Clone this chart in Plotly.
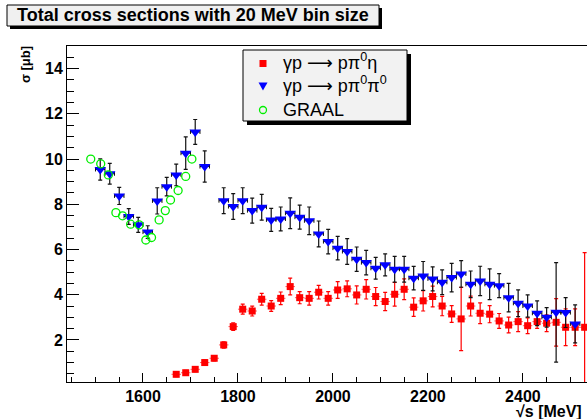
import plotly.graph_objects as go

# ---------------- data ----------------
eta_x = [1670, 1690, 1710, 1730, 1750, 1770, 1790, 1810, 1830, 1850, 1870, 1890,
         1910, 1930, 1950, 1970, 1990, 2010, 2030, 2050, 2070, 2090, 2110, 2130,
         2150, 2170, 2190, 2210, 2230, 2250, 2270, 2290, 2310, 2330, 2350, 2370,
         2390, 2410, 2430, 2450, 2470, 2490, 2510, 2530]
eta_y = [0.48, 0.55, 0.70, 1.00, 1.19, 1.78, 2.59, 3.36, 3.28, 3.80, 3.50, 3.84,
         4.36, 3.87, 3.84, 4.11, 3.84, 4.21, 4.26, 3.99, 4.24, 3.92, 3.70, 4.02,
         4.24, 3.45, 3.73, 3.92, 3.50, 3.15, 2.93, 3.50, 3.18, 3.14, 2.84, 2.66,
         2.81, 2.63, 2.81, 2.74, 2.78, 2.56, 2.56, 2.56]
eta_err = [0.10, 0.10, 0.10, 0.12, 0.12, 0.14, 0.17, 0.22, 0.22, 0.26, 0.24, 0.28,
           0.37, 0.27, 0.30, 0.30, 0.30, 0.37, 0.35, 0.40, 0.43, 0.40, 0.40, 0.52,
           0.46, 0.41, 0.45, 0.46, 0.43, 0.37, 1.40, 0.44, 0.46, 0.38, 0.33, 0.35,
           0.44, 0.35, 0.30, 0.37, 1.05, 0.81, 0.81, 3.30]

pi0_x = [1510, 1530, 1550, 1570, 1590, 1610, 1630, 1650, 1670, 1690, 1710, 1730,
         1770, 1790, 1810, 1830, 1850, 1870, 1890, 1910, 1930, 1950, 1970, 1990,
         2010, 2030, 2050, 2070, 2090, 2110, 2130, 2150, 2170, 2190, 2210, 2230,
         2250, 2270, 2290, 2310, 2330, 2350, 2370, 2390, 2410, 2430, 2450, 2470,
         2490, 2510]
pi0_y = [9.54, 9.35, 8.37, 7.46, 7.09, 6.77, 8.15, 8.78, 9.30, 10.26, 11.20, 9.67,
         8.16, 7.90, 8.16, 7.72, 7.87, 7.31, 7.35, 7.60, 7.43, 7.27, 6.69, 6.35,
         6.06, 5.91, 5.57, 5.42, 5.17, 5.32, 5.13, 5.13, 4.73, 4.83, 4.70, 4.55,
         4.76, 4.92, 4.46, 4.61, 4.46, 4.40, 3.87, 3.62, 3.50, 3.18, 3.00, 3.22,
         3.21, 2.71]
pi0_err = [0.47, 0.46, 0.38, 0.35, 0.33, 0.28, 0.58, 0.41, 0.48, 0.72, 0.55, 0.69,
           0.57, 0.57, 0.57, 0.55, 0.57, 0.51, 0.53, 0.68, 0.53, 0.61, 0.57, 0.54,
           0.52, 0.57, 0.54, 0.54, 0.48, 0.49, 0.57, 0.57, 0.52, 0.64, 0.53, 0.55,
           0.63, 0.59, 0.59, 0.65, 0.68, 0.53, 0.63, 0.59, 0.49, 0.55, 0.43, 2.20,
           0.66, 0.84]

graal_x = [1490, 1511, 1527, 1543, 1557, 1574, 1592, 1606, 1618, 1634, 1647, 1658,
           1674, 1690, 1703]
graal_y = [10.00, 9.79, 9.30, 7.63, 7.49, 7.12, 7.09, 6.42, 6.53, 7.31, 7.72, 8.19,
           8.61, 9.23, 10.00]

HALF_BIN = 10  # MeV, half of the 20 MeV bin

names = ["γp ⟶ pπ<sup>0</sup>η", "γp ⟶ pπ<sup>0</sup>π<sup>0</sup>", "GRAAL"]
title_text = "Total cross sections with 20 MeV bin size"
x_title = "√s [MeV]"
y_title = "σ [μb]"

# ---------------- figure ----------------
FONT = "Liberation Sans, Arial, Helvetica, DejaVu Sans, sans-serif"
W, H = 587, 419
ML, MR, MT, MB = 67, 0, 46, 37
PW, PH = W - ML - MR, H - MT - MB

RED, BLUE, GREEN = "#ff0000", "#0000ff", "#00ee00"


def X(px):
    return (px - ML) / PW


def Y(py):
    return (H - MB - py) / PH


fig = go.Figure()

fig.add_trace(go.Scatter(
    x=eta_x, y=eta_y, mode="markers", name=names[0],
    marker=dict(symbol="square", size=7, color=RED),
    error_y=dict(type="data", array=eta_err, color=RED, thickness=1.2, width=2),
    error_x=dict(type="constant", value=HALF_BIN, color="#ff6060", thickness=1, width=0),
))
fig.add_trace(go.Scatter(
    x=pi0_x, y=pi0_y, mode="markers", name=names[1],
    marker=dict(symbol="triangle-down", size=10, color=BLUE),
    error_y=dict(type="data", array=pi0_err, color="#111111", thickness=1.2, width=2),
    error_x=dict(type="constant", value=HALF_BIN, color="#111111", thickness=1, width=2),
))
fig.add_trace(go.Scatter(
    x=graal_x, y=graal_y, mode="markers", name=names[2],
    marker=dict(symbol="circle-open", size=8, color=GREEN, line=dict(width=1.3, color=GREEN)),
))

shapes = []
# title box shadow + box
shapes.append(dict(type="rect", xref="paper", yref="paper",
                   x0=X(10), x1=X(382), y0=Y(29), y1=Y(8),
                   fillcolor="black", line=dict(width=0), layer="above"))
shapes.append(dict(type="rect", xref="paper", yref="paper",
                   x0=X(7), x1=X(379), y0=Y(26), y1=Y(5),
                   fillcolor="#f0f0f0", line=dict(width=1, color="black"), layer="above"))
# legend box shadow + box
LX0, LX1, LY0, LY1 = 243, 407, 50, 121
shapes.append(dict(type="rect", xref="paper", yref="paper",
                   x0=X(LX0 + 4), x1=X(LX1 + 4), y0=Y(LY1 + 4), y1=Y(LY0 + 4),
                   fillcolor="black", line=dict(width=0), layer="above"))
shapes.append(dict(type="rect", xref="paper", yref="paper",
                   x0=X(LX0), x1=X(LX1), y0=Y(LY1), y1=Y(LY0),
                   fillcolor="#f2f2f2", line=dict(width=1, color="black"), layer="above"))
# legend keys
KX = 263
ROWS = [63.5, 86.5, 110]
shapes.append(dict(type="rect", xref="paper", yref="paper",
                   x0=X(KX - 3.5), x1=X(KX + 3.5), y0=Y(ROWS[0] + 3.5), y1=Y(ROWS[0] - 3.5),
                   fillcolor=RED, line=dict(width=0), layer="above"))
shapes.append(dict(type="path", xref="paper", yref="paper",
                   path="M {:.4f} {:.4f} L {:.4f} {:.4f} L {:.4f} {:.4f} Z".format(
                       X(KX - 4.5), Y(ROWS[1] - 4), X(KX + 4.5), Y(ROWS[1] - 4), X(KX), Y(ROWS[1] + 4)),
                   fillcolor=BLUE, line=dict(width=0), layer="above"))
shapes.append(dict(type="circle", xref="paper", yref="paper",
                   x0=X(KX - 3.5), x1=X(KX + 3.5), y0=Y(ROWS[2] + 3.5), y1=Y(ROWS[2] - 3.5),
                   fillcolor="rgba(0,0,0,0)", line=dict(width=1.3, color=GREEN), layer="above"))

annotations = [
    dict(text="<b>" + title_text + "</b>", xref="paper", yref="paper",
         x=X(193), y=Y(15.5), xanchor="center", yanchor="middle",
         showarrow=False, font=dict(family=FONT, size=18, color="black")),
    dict(text="<b>" + x_title + "</b>", xref="paper", yref="paper",
         x=X(584), y=Y(411), xanchor="right", yanchor="middle",
         showarrow=False, font=dict(family=FONT, size=16, color="black")),
    dict(text="<b>" + y_title + "</b>", xref="paper", yref="paper",
         x=X(25), y=Y(65), xanchor="center", yanchor="middle",
         textangle=-90, showarrow=False, font=dict(family=FONT, size=13, color="black")),
]
row_shift = [2, 2, 0]
for i, nm in enumerate(names):
    annotations.append(dict(text=nm, xref="paper", yref="paper",
                            x=X(281), y=Y(ROWS[i] - row_shift[i]), xanchor="left", yanchor="middle",
                            showarrow=False, font=dict(family=FONT, size=18, color="black")))

fig.update_layout(
    width=W, height=H,
    margin=dict(l=ML, r=MR, t=MT, b=MB, pad=0),
    paper_bgcolor="white", plot_bgcolor="white",
    showlegend=False,
    shapes=shapes, annotations=annotations,
    xaxis=dict(range=[1440, 2535], showgrid=False, zeroline=False,
               showline=True, linecolor="black", linewidth=1, mirror=True,
               ticks="inside", ticklen=9, tickcolor="black", tickwidth=1,
               tick0=1600, dtick=200,
               minor=dict(ticks="inside", ticklen=5, dtick=50, tick0=1600, tickcolor="black", showgrid=False),
               tickfont=dict(family=FONT, size=16, color="black", weight="bold")),
    yaxis=dict(range=[0.14, 15.0], showgrid=False, zeroline=False,
               showline=True, linecolor="black", linewidth=1, mirror=False,
               ticks="inside", ticklen=12, tickcolor="black", tickwidth=1,
               tick0=0, dtick=2,
               minor=dict(ticks="inside", ticklen=7, dtick=0.5, tick0=0, tickcolor="black", showgrid=False),
               tickfont=dict(family=FONT, size=16, color="black", weight="bold")),
)

fig.write_html("out.html", config={"displayModeBar": False},
               post_script="document.body.style.margin='0';document.body.style.overflow='hidden';")
